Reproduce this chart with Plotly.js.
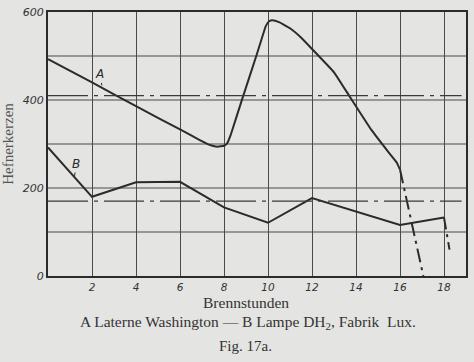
<!DOCTYPE html>
<html><head><meta charset="utf-8">
<script src="https://cdn.plot.ly/plotly-3.0.1.min.js"></script>
<style>html,body{margin:0;padding:0;background:#e4e4e2;}</style>
</head><body>
<div id="chart" style="width:474px;height:362px;"></div>
<script>
// Curve A: Laterne Washington
const hoursA   = [0, 2, 4, 6, 6.9, 7.4, 7.7, 8.0, 8.15, 8.3, 8.8, 9.5, 9.9, 10.05, 10.2, 10.5, 11, 11.5, 12, 13, 13.75, 14.7, 15.5, 15.85, 16];
const candlesA = [493, 440, 386, 333, 309, 297, 294, 296, 302, 320, 398, 505, 568, 579, 581, 577, 563, 542, 516, 463, 405, 332, 280, 258, 242];
const hoursAext   = [16, 17.06];
const candlesAext = [242, 0];
// Curve B: Lampe DH2, Fabrik Lux
const hoursB   = [0, 2, 4, 6, 8, 10, 12, 16, 18];
const candlesB = [292, 180, 213, 214, 156, 121, 177, 116, 133];
const hoursBext   = [18, 18.25];
const candlesBext = [133, 60];
// mean lines
const meanSpan = [0, 18.8];
const meanA = [410, 410];
const meanB = [170, 170];
const xTicks = [2, 4, 6, 8, 10, 12, 14, 16, 18];
const yTicks = [0, 200, 400, 600];
const yGrid = [100, 200, 300, 400, 500];

const ink = '#2b2b2b';
const serif = 'Liberation Serif, DejaVu Serif, serif';
const traces = [
  {x: hoursA, y: candlesA, mode: 'lines', line: {color: ink, width: 2, shape: 'spline', smoothing: 0.3}},
  {x: hoursAext, y: candlesAext, mode: 'lines', line: {color: ink, width: 2, dash: '14px,5px,3px,5px'}},
  {x: hoursB, y: candlesB, mode: 'lines', line: {color: ink, width: 2}},
  {x: hoursBext, y: candlesBext, mode: 'lines', line: {color: ink, width: 2, dash: '12px,5px,3px,5px'}},
  {x: meanSpan, y: meanA, mode: 'lines', line: {color: '#3a3a3a', width: 1.3, dash: '40px,6px,4px,6px'}},
  {x: meanSpan, y: meanB, mode: 'lines', line: {color: '#3a3a3a', width: 1.3, dash: '40px,6px,4px,6px'}}
];
const layout = {
  width: 474, height: 362,
  margin: {l: 48, r: 8, t: 12, b: 86},
  paper_bgcolor: '#e4e4e2', plot_bgcolor: '#e4e4e2',
  showlegend: false,
  xaxis: {range: [0, 19], tickvals: xTicks, ticktext: xTicks.map(String),
    showgrid: true, gridcolor: '#4a4a4a', gridwidth: 1,
    showline: true, linecolor: ink, linewidth: 2, mirror: true,
    zeroline: false, ticks: '', ticklen: 0,
    tickfont: {family: 'DejaVu Sans, sans-serif', size: 10.5, style: 'italic', color: '#333'}},
  yaxis: {range: [0, 600], tickvals: yTicks, ticktext: yTicks.map(String),
    showgrid: false,
    showline: true, linecolor: ink, linewidth: 2, mirror: true,
    zeroline: false, ticks: '',
    tickfont: {family: 'DejaVu Sans, sans-serif', size: 11, style: 'italic', color: '#333'},
    title: {text: 'Hefnerkerzen', font: {family: serif, size: 15, color: '#555'}, standoff: 14}},
  shapes: yGrid.map(v => ({type: 'line', xref: 'paper', x0: 0, x1: 1, yref: 'y', y0: v, y1: v, line: {color: '#4a4a4a', width: 1}, layer: 'below'})),
  annotations: [
    {x: 2.45, y: 433, xref: 'x', yref: 'y', text: 'A', showarrow: true, arrowhead: 0, arrowwidth: 1, arrowcolor: ink, ax: -2, ay: -11,
      font: {family: 'DejaVu Sans, sans-serif', size: 12, style: 'italic', color: ink}},
    {x: 1.2, y: 225, xref: 'x', yref: 'y', text: 'B', showarrow: true, arrowhead: 0, arrowwidth: 1, arrowcolor: ink, ax: 2, ay: -13,
      font: {family: 'DejaVu Sans, sans-serif', size: 12, style: 'italic', color: ink}},
    {x: 0.473, y: -0.099, xref: 'paper', yref: 'paper', text: 'Brennstunden', showarrow: false, yanchor: 'middle',
      font: {family: serif, size: 15.5, color: '#333'}},
    {x: 0.478, y: -0.178, xref: 'paper', yref: 'paper', text: 'A Laterne Washington — B Lampe DH<sub>2</sub>, Fabrik  Lux.', showarrow: false, yanchor: 'middle',
      font: {family: serif, size: 15.5, color: '#333'}},
    {x: 0.473, y: -0.267, xref: 'paper', yref: 'paper', text: 'Fig. 17a.', showarrow: false, yanchor: 'middle',
      font: {family: serif, size: 15, color: '#333'}}
  ]
};
Plotly.newPlot('chart', traces, layout, {staticPlot: true, displayModeBar: false});
</script>
</body></html>
